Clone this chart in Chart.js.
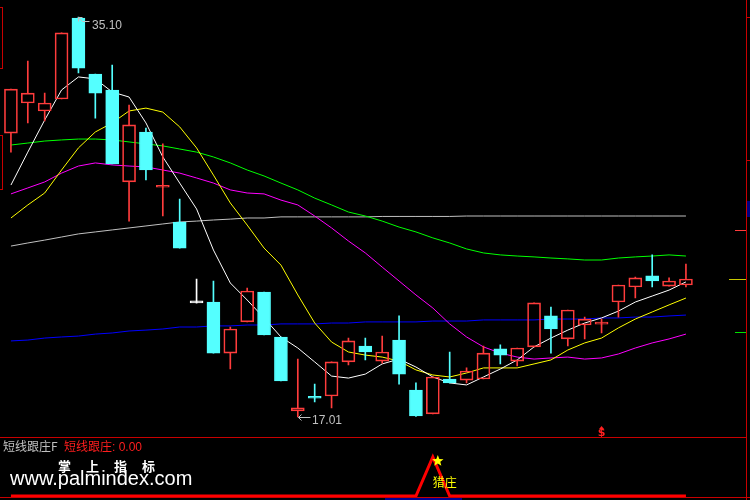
<!DOCTYPE html>
<html>
<head>
<meta charset="utf-8">
<script src="https://cdn.jsdelivr.net/npm/chart.js@4.4.0/dist/chart.umd.min.js"></script>
<style>
body { margin: 0; background: #000; }
#wrap { position: relative; width: 750px; height: 500px; overflow: hidden; background: #000; }
#kline { position: absolute; left: 0; top: 0; }
#sub { position: absolute; left: 0; top: 437px; }
.ln { position: absolute; }
.txt { position: absolute; white-space: nowrap; }
</style>
</head>
<body>
<div id="wrap">
  <canvas id="kline" width="750" height="437"></canvas>
  <canvas id="sub" width="750" height="63"></canvas>

  <!-- frame -->
  <div class="ln" style="left:0;top:437px;width:746px;height:1px;background:#c80000"></div>
  <div class="ln" style="left:0;top:497px;width:750px;height:1px;background:#c80000"></div>
  <div class="ln" style="left:746px;top:0;width:1px;height:500px;background:#c80000"></div>
  <div class="ln" style="left:747px;top:17px;width:3px;height:1px;background:#c80000"></div>
  <div class="ln" style="left:747px;top:160px;width:3px;height:1px;background:#c80000"></div>
  <div class="ln" style="left:747px;top:201px;width:3px;height:16px;background:#000080"></div>
  <div class="ln" style="left:735px;top:230px;width:11px;height:1px;background:#ff3c3c"></div>
  <div class="ln" style="left:729px;top:279px;width:17px;height:1px;background:#c8c800"></div>
  <div class="ln" style="left:735px;top:332px;width:11px;height:1px;background:#00e000"></div>
  <div class="ln" style="left:0;top:7px;width:2px;height:60px;border:1px solid #c80000;border-left:none"></div>
  <div class="ln" style="left:0;top:135px;width:2px;height:53px;border:1px solid #c80000;border-left:none"></div>
  <div class="ln" style="left:385px;top:498px;width:77px;height:2px;background:#000090"></div>

  <!-- sub panel texts -->
  <div class="txt" style="left:3px;top:440px;font:12px/12px 'Noto Sans CJK SC',sans-serif;color:#c0c0c0">短线跟庄F</div>
  <div class="txt" style="left:64px;top:440px;font:12px/12px 'Noto Sans CJK SC',sans-serif;color:#ff1e1e">短线跟庄<span style="font-family:'Liberation Sans',sans-serif">: 0.00</span></div>
  <div class="txt" style="left:58px;top:459px;font:bold 13px/13px 'Noto Sans CJK SC',sans-serif;color:#fff;letter-spacing:15px">掌上指标</div>
  <div class="txt" style="left:10px;top:468px;font:20px/20px 'Liberation Sans',Arial,sans-serif;color:#fff">www.palmindex.com</div>
</div>

<script>
// day slots on the x axis (last three are empty space on the right)
var days = ['1','2','3','4','5','6','7','8','9','10','11','12','13','14','15','16','17','18','19','20','21','22',
            '23','24','25','26','27','28','29','30','31','32','33','34','35','36','37','38','39','40','41','42','43','44'];

// daily candles
var openP  = [29.85, 31.21, 30.85, 31.39, 35.05, 32.52, 31.80, 27.64, 29.90, 27.40, 25.83, 22.17, 22.21, 19.90, 21.31, 22.66, 20.63, 17.28, 17.87, 17.96, 19.50,
              20.22, 19.54, 20.49, 18.23, 17.15, 18.73, 18.68, 18.73, 20.09, 19.54, 20.18, 21.58, 20.54, 21.17, 21.21, 22.21, 22.89, 23.39, 22.93, 22.98];
var highP  = [31.84, 33.11, 31.66, 34.38, 35.10, 32.52, 32.93, 31.12, 30.08, 29.36, 26.87, 23.25, 23.16, 21.08, 22.84, 22.66, 20.63, 19.63, 18.50, 19.50, 20.58,
              20.58, 20.67, 21.58, 18.55, 18.82, 19.95, 19.23, 20.22, 20.27, 20.13, 22.17, 21.98, 21.85, 21.53, 21.44, 22.98, 23.34, 24.34, 23.30, 23.93];
var lowP   = [28.99, 30.31, 30.40, 31.39, 32.57, 30.53, 28.45, 25.87, 27.73, 26.10, 24.65, 22.17, 19.90, 19.18, 21.31, 20.72, 18.64, 17.01, 17.69, 17.42, 19.36,
              19.59, 19.45, 18.50, 17.04, 17.15, 18.55, 18.55, 18.73, 19.41, 19.32, 20.18, 19.90, 20.22, 20.54, 20.81, 21.53, 22.39, 22.89, 22.93, 22.89];
var closeP = [31.84, 31.66, 31.21, 34.38, 32.79, 31.66, 28.45, 30.22, 28.18, 27.41, 24.65, 22.17, 19.90, 20.99, 22.71, 20.72, 18.64, 17.42, 17.86, 19.50, 20.45,
              19.95, 19.95, 18.95, 17.06, 18.82, 18.55, 19.09, 19.90, 19.81, 20.13, 22.17, 20.99, 21.85, 21.44, 21.22, 22.98, 23.30, 23.16, 23.16, 23.25];

// moving averages
var ma5   = [27.50, 28.99, 30.44, 31.80, 32.39, 32.30, 31.71, 31.48, 30.31, 28.77, 27.59, 26.42, 24.56, 23.07, 22.30, 21.49, 20.63, 20.13, 19.50, 18.86, 18.77,
             18.95, 19.41, 19.63, 19.27, 18.82, 18.55, 18.46, 18.82, 19.18, 19.59, 20.18, 20.58, 20.94, 21.26, 21.49, 21.80, 22.21, 22.48, 22.75, 23.12];
var ma10  = [26.01, 26.60, 27.14, 28.18, 29.18, 29.90, 30.31, 30.85, 30.98, 30.80, 30.13, 29.18, 27.95, 26.69, 25.69, 24.65, 23.88, 22.53, 21.26, 20.40, 19.95,
             19.81, 19.72, 19.54, 19.14, 18.91, 18.82, 19.00, 19.23, 19.23, 19.23, 19.41, 19.59, 20.04, 20.36, 20.58, 21.04, 21.44, 21.76, 22.08, 22.39];
var ma30  = [27.10, 27.37, 27.64, 28.04, 28.36, 28.50, 28.41, 28.36, 28.32, 28.18, 28.04, 27.82, 27.59, 27.28, 27.14, 27.10, 26.82, 26.60, 26.10, 25.56, 24.97,
             24.43, 23.79, 23.16, 22.53, 21.94, 21.22, 20.63, 20.18, 19.90, 19.72, 19.63, 19.68, 19.72, 19.63, 19.68, 19.86, 20.13, 20.36, 20.54, 20.76];
var ma60  = [29.31, 29.40, 29.49, 29.54, 29.58, 29.58, 29.54, 29.45, 29.36, 29.27, 29.13, 28.99, 28.77, 28.50, 28.18, 27.91, 27.59, 27.28, 26.91, 26.60, 26.28,
             26.10, 25.87, 25.60, 25.38, 25.11, 24.88, 24.61, 24.43, 24.34, 24.29, 24.25, 24.20, 24.16, 24.11, 24.11, 24.20, 24.25, 24.29, 24.34, 24.29];
var ma120 = [24.74, 24.88, 25.01, 25.15, 25.29, 25.38, 25.47, 25.56, 25.65, 25.74, 25.83, 25.87, 25.92, 25.96, 26.01, 26.01, 26.06, 26.06, 26.06, 26.06, 26.06,
             26.06, 26.08, 26.08, 26.08, 26.08, 26.08, 26.10, 26.10, 26.10, 26.10, 26.10, 26.10, 26.10, 26.10, 26.10, 26.10, 26.10, 26.10, 26.10, 26.10];
var ma250 = [20.45, 20.49, 20.58, 20.63, 20.67, 20.76, 20.81, 20.90, 20.94, 20.99, 21.08, 21.08, 21.13, 21.13, 21.17, 21.17, 21.22, 21.22, 21.22, 21.26, 21.26,
             21.31, 21.31, 21.31, 21.31, 21.35, 21.35, 21.35, 21.40, 21.40, 21.40, 21.40, 21.44, 21.44, 21.44, 21.49, 21.49, 21.53, 21.53, 21.58, 21.62];

// indicator panel: 1 on the day the signal fires
var houseSignal = [0, 0, 0, 0, 0, 0, 0, 0, 0, 0, 0, 0, 0, 0, 0, 0, 0, 0, 0, 0, 0,
                   0, 0, 0, 0, 1, 0, 0, 0, 0, 0, 0, 0, 0, 0, 0, 0, 0, 0, 0, 0];
var cashDays = [35];

var upColor = '#ff3c3c';
var downColor = '#54ffff';
var flatColor = '#ffffff';

function candleColor(i) {
    if (closeP[i] > openP[i]) return upColor;
    if (closeP[i] < openP[i]) return downColor;
    return flatColor;
}

var colors = openP.map(function(o, i) { return candleColor(i); });
var fills = openP.map(function(o, i) { return closeP[i] > o ? 'rgba(0,0,0,0)' : candleColor(i); });

function maLine(data, color) {
    return {
        type: 'line', data: data, borderColor: color, borderWidth: 1,
        pointRadius: 0, tension: 0, fill: false, order: 3
    };
}

// price marks + signal marker
var markPlugin = {
    id: 'marks',
    afterDatasetsDraw: function(chart) {
        var ctx = chart.ctx, xs = chart.scales.x, ys = chart.scales.y;
        var hi = highP.indexOf(Math.max.apply(null, highP));
        var lo = lowP.indexOf(Math.min.apply(null, lowP));
        ctx.save();
        ctx.strokeStyle = '#c0c0c0';
        ctx.fillStyle = '#c0c0c0';
        ctx.lineWidth = 1;
        ctx.font = '12px "Liberation Sans", Arial, sans-serif';

        var x = Math.round(xs.getPixelForValue(hi)), y = Math.round(ys.getPixelForValue(highP[hi]));
        ctx.beginPath();
        ctx.moveTo(x + 0.5, y + 4.5); ctx.lineTo(x + 0.5, y + 0.5); ctx.lineTo(x + 4.5, y + 0.5);
        ctx.moveTo(x + 0.5, y + 0.5); ctx.lineTo(x + 4.5, y + 4.5); ctx.lineTo(x + 11.5, y + 4.5);
        ctx.stroke();
        ctx.fillText(highP[hi].toFixed(2), x + 14, y + 12);

        x = Math.round(xs.getPixelForValue(lo)); y = Math.round(ys.getPixelForValue(lowP[lo]));
        ctx.beginPath();
        ctx.moveTo(x + 3.5, y - 2.5); ctx.lineTo(x + 0.5, y + 0.5); ctx.lineTo(x + 3.5, y + 3.5);
        ctx.moveTo(x + 0.5, y + 0.5); ctx.lineTo(x + 12.5, y + 0.5);
        ctx.stroke();
        ctx.fillText(lowP[lo].toFixed(2), x + 14, y + 7);

        ctx.fillStyle = '#ff2020';
        ctx.font = 'bold 11px "DejaVu Sans", sans-serif';
        ctx.textAlign = 'center';
        cashDays.forEach(function(d) {
            var cx = xs.getPixelForValue(d);
            ctx.beginPath();
            ctx.moveTo(cx - 2.5, 429); ctx.lineTo(cx, 426); ctx.lineTo(cx + 2.5, 429);
            ctx.fill();
            ctx.fillText('$', cx, 436);
        });
        ctx.restore();
    }
};

new Chart(document.getElementById('kline'), {
    type: 'bar',
    data: {
        labels: days,
        datasets: [
            {
                label: 'body', data: openP.map(function(o, i) { return [o, closeP[i]]; }),
                backgroundColor: fills, borderColor: colors, borderWidth: 1, borderSkipped: false,
                barThickness: 13, minBarLength: 2, grouped: false, order: 1
            },
            {
                label: 'upper', data: openP.map(function(o, i) { return [Math.max(o, closeP[i]), highP[i]]; }),
                backgroundColor: colors, borderWidth: 0, barThickness: 1, grouped: false, order: 2
            },
            {
                label: 'lower', data: openP.map(function(o, i) { return [lowP[i], Math.min(o, closeP[i])]; }),
                backgroundColor: colors, borderWidth: 0, barThickness: 1, grouped: false, order: 2
            },
            maLine(ma5, '#ffffff'),
            maLine(ma10, '#ffff00'),
            maLine(ma30, '#ff00ff'),
            maLine(ma60, '#00ff00'),
            maLine(ma120, '#c0c0c0'),
            maLine(ma250, '#0000ff')
        ]
    },
    options: {
        responsive: false,
        animation: false,
        devicePixelRatio: 1,
        events: [],
        layout: { padding: { left: 2.5, right: 5, top: 0, bottom: 0 } },
        plugins: { legend: { display: false }, tooltip: { enabled: false } },
        scales: {
            x: { type: 'category', offset: true, display: false },
            y: { type: 'linear', min: 16.1055, max: 35.8688, display: false }
        }
    },
    plugins: [markPlugin]
});

var starPlugin = {
    id: 'star',
    afterDatasetsDraw: function(chart) {
        var ctx = chart.ctx, xs = chart.scales.x, ys = chart.scales.y;
        var peak = houseSignal.indexOf(1);
        var x = xs.getPixelForValue(peak), y = ys.getPixelForValue(1);
        var cx = x + 5, cy = y + 4;
        ctx.save();
        ctx.fillStyle = '#ffff00';
        ctx.beginPath();
        for (var k = 0; k < 10; k++) {
            var r = k % 2 === 0 ? 6 : 2.6;
            var a = -Math.PI / 2 + k * Math.PI / 5;
            if (k === 0) ctx.moveTo(cx + r * Math.cos(a), cy + r * Math.sin(a));
            else ctx.lineTo(cx + r * Math.cos(a), cy + r * Math.sin(a));
        }
        ctx.closePath();
        ctx.fill();
        ctx.font = '12px "Noto Sans CJK SC", sans-serif';
        ctx.textBaseline = 'top';
        ctx.fillText('猎庄', x, y + 19);
        ctx.restore();
    }
};

new Chart(document.getElementById('sub'), {
    type: 'line',
    data: {
        labels: days,
        datasets: [{
            data: houseSignal, borderColor: '#ff0000', borderWidth: 3,
            pointRadius: 0, tension: 0, fill: false, borderJoinStyle: 'miter'
        }]
    },
    options: {
        responsive: false,
        animation: false,
        devicePixelRatio: 1,
        events: [],
        layout: { padding: { left: 2.5, right: 5, top: 0, bottom: 0 } },
        plugins: { legend: { display: false }, tooltip: { enabled: false } },
        scales: {
            x: { type: 'category', offset: true, display: false },
            y: { type: 'linear', min: -0.1026, max: 1.5128, display: false }
        }
    },
    plugins: [starPlugin]
});
</script>
</body>
</html>
